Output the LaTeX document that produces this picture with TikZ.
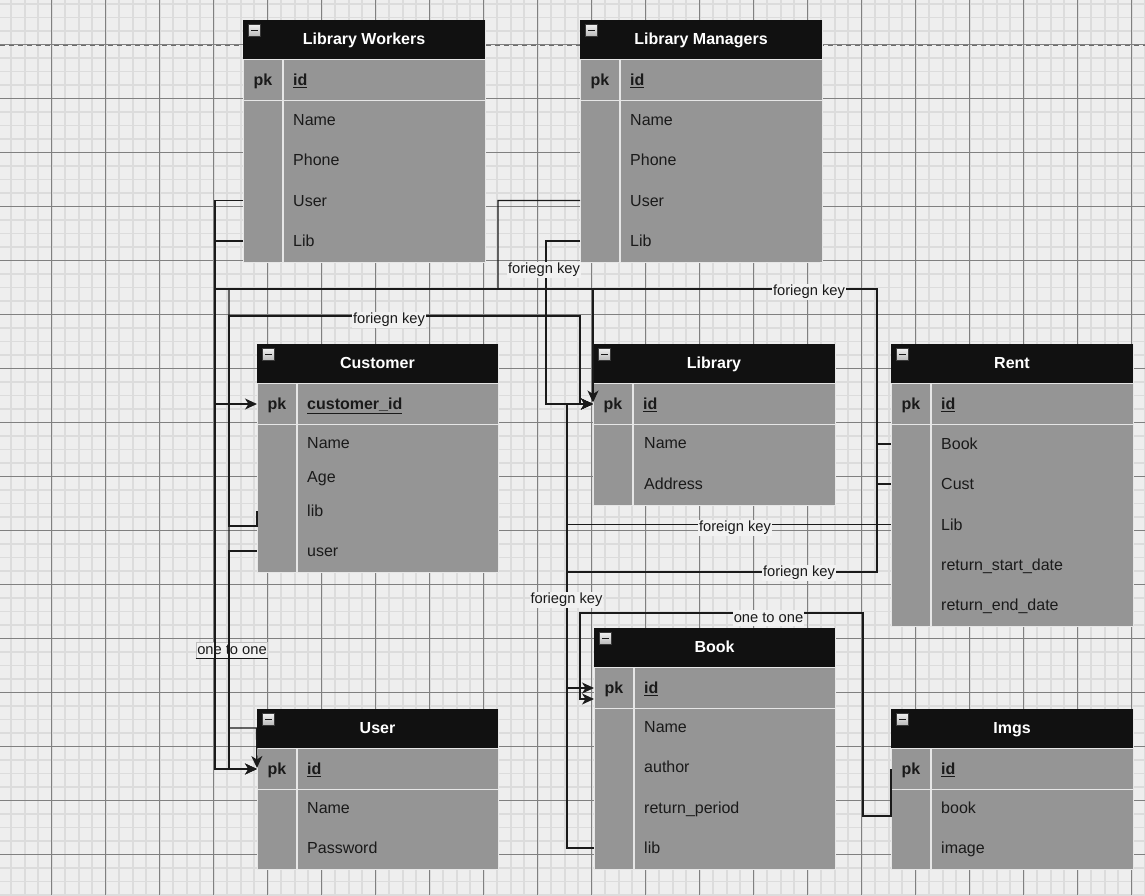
\documentclass[tikz,border=0pt]{standalone}
\usepackage{fontspec}
\setmainfont{Liberation Sans}
\usetikzlibrary{arrows.meta,calc}
\definecolor{bgc}{HTML}{EEEEEE}
\definecolor{gminor}{HTML}{DCDCDC}
\definecolor{gmajor}{HTML}{808080}
\definecolor{hdrc}{HTML}{111111}
\definecolor{bodyc}{HTML}{959595}
\definecolor{sepc}{HTML}{E6E6E6}
\definecolor{linec}{HTML}{1A1A1A}
\definecolor{lblbg}{HTML}{F1F1F1}
\newcommand\ffld{\fontsize{16}{19}\selectfont}
\newcommand\flbl{\fontsize{14.7}{17}\selectfont}
\newcommand\keyul[1]{\underline{#1}}
\tikzset{
  tbl/.style={draw=sepc, line width=1pt, fill=bodyc, anchor=north west, inner sep=0pt},
  hdr/.style={fill=hdrc, anchor=north west, inner sep=0pt, minimum height=39.5pt},
  htext/.style={text=white, font=\ffld\bfseries, text height=11.5pt, text depth=0pt, inner sep=0pt},
  fld/.style={anchor=west, font=\ffld, text=linec, text height=11.5pt, text depth=0pt, inner sep=0pt},
  pkt/.style={fld, font=\ffld\bfseries, anchor=center},
  sep/.style={draw=sepc, line width=1.5pt},
  icon/.style={draw=gray!45!black, top color=gray!12, bottom color=gray!55, minimum size=12pt, inner sep=0pt, anchor=north west, line width=0.8pt},
  edge/.style={draw=linec, line width=1.3pt},
  arr/.style={edge, -{Stealth[length=12pt,width=11pt,inset=3.5pt]}},
  lbl/.style={fill=lblbg, font=\flbl, text=linec, inner sep=1pt, text height=10.8pt, text depth=3.2pt, anchor=base},
  gridminor/.style={draw=gminor, line width=1.6pt},
  gridmajor/.style={draw=gmajor, line width=1pt},
  pagebreak/.style={draw=gray!85!black, line width=1.8pt, dash pattern=on 4.5pt off 4.5pt}
}
\newcommand\ertable[7]{%
  \node[tbl, minimum width=#4pt, minimum height=#5pt] (#1) at (#2,#3) {};
  \node[hdr, minimum width=#4pt] (#1H) at (#2,#3) {};
  \node[htext] (#1T) at (#2+#4/2,#3+18.5) {#6};
  \node[icon] (#1I) at (#2+5,#3+4) {};
  \draw[line width=1.6pt, linec] ($(#1I.center)+(-3.5,0)$) -- ++(7,0);
  \draw[sep] (#2,#3+39.5) -- ++(#4,0);
  \draw[sep] (#2,#3+80.5) -- ++(#4,0);
  \draw[sep] (#2+40,#3+40) -- (#2+40,#3+#5);
  \node[pkt] (#1P) at (#2+20,#3+60) {pk};
  \node[fld, font=\ffld\bfseries] (#1K) at (#2+50,#3+60) {\keyul{#7}};
}
\begin{document}
\begin{tikzpicture}[x=1pt,y=-1pt]
\useasboundingbox (0,0) rectangle (1145,895);
\fill[bgc] (0,0) rectangle (1145,895);
% grid
\foreach \i in {0,...,84} \draw[gridminor] (11.2+13.5*\i,0) -- (11.2+13.5*\i,895);
\foreach \j in {0,...,66} \draw[gridminor] (0,3.8+13.5*\j) -- (1145,3.8+13.5*\j);
\foreach \i in {1,...,21} \draw[gridmajor] (-2.3+54*\i,0) -- (-2.3+54*\i,895);
\foreach \j in {1,...,16} \draw[gridmajor] (0,-9.7+54*\j) -- (1145,-9.7+54*\j);
\draw[pagebreak] (0,45.5) -- (1145,45.5);

% tables
\ertable{wk}{243}{20}{242}{242}{Library Workers}{id}
\node[fld] (wkName) at (293,119.5) {Name};
\node[fld] (wkPhone) at (293,160) {Phone};
\node[fld] (wkUser) at (293,200.5) {User};
\node[fld] (wkLib) at (293,241) {Lib};

\ertable{mg}{580}{20}{242}{242}{Library Managers}{id}
\node[fld] (mgName) at (630,119.5) {Name};
\node[fld] (mgPhone) at (630,160) {Phone};
\node[fld] (mgUser) at (630,200.5) {User};
\node[fld] (mgLib) at (630,241) {Lib};

\ertable{cu}{257}{344}{241}{228}{Customer}{customer\_id}
\node[fld] (cuName) at (307,443) {Name};
\node[fld] (cuAge) at (307,477) {Age};
\node[fld] (cuLib) at (307,511) {lib};
\node[fld] (cuUser) at (307,551) {user};

\ertable{lb}{593}{344}{242}{161}{Library}{id}
\node[fld] (lbName) at (644,443) {Name};
\node[fld] (lbAddr) at (644,484) {Address};

\ertable{rt}{891}{344}{242}{282}{Rent}{id}
\node[fld] (rtBook) at (941,444) {Book};
\node[fld] (rtCust) at (941,484) {Cust};
\node[fld] (rtLib) at (941,524.5) {Lib};
\node[fld] (rtStart) at (941,564.5) {return\_start\_date};
\node[fld] (rtEnd) at (941,605) {return\_end\_date};

\ertable{bk}{594}{628}{241}{241}{Book}{id}
\node[fld] (bkName) at (644,727) {Name};
\node[fld] (bkAuthor) at (644,767) {author};
\node[fld] (bkPeriod) at (644,807.5) {return\_period};
\node[fld] (bkLib) at (644,848) {lib};

\ertable{us}{257}{709}{241}{160}{User}{id}
\node[fld] (usName) at (307,807.5) {Name};
\node[fld] (usPass) at (307,848) {Password};

\ertable{im}{891}{709}{242}{160}{Imgs}{id}
\node[fld] (imBook) at (941,807.5) {book};
\node[fld] (imImage) at (941,848) {image};

% label lying under the lines
\node[lbl, draw=gray!50, line width=0.6pt] (oo1) at (232,654.2) {one to one};
\draw[linec, line width=1.2pt] (oo1.south west) -- (oo1.south east);

% connectors
\draw[arr] (wk.west |- wkUser) -- ++(-28,0) |- (us.west |- usK);
\draw[arr] (wk.west |- wkLib) -- ++(-28,0) |- (593,289) -- ($(lb.west |- lbK)+(0,-1.5)$);
\draw[arr] (mg.west |- mgUser) -- ++(-82,0) |- (229,289) |- (256.5,728) -- ($(us.west |- usK)+(0,-1)$);
\draw[arr] (mg.west |- mgLib) -- ++(-34,0) |- (lb.west |- lbK);
\draw[arr] (cu.west |- cuLib) -- ++(0,15) -- ++(-28,0) |- (580,316) |- (lb.west |- lbK);
\draw[arr] (cu.west |- cuUser) -- ++(-28,0) |- (us.west |- usK);
\draw[arr] (rt.west |- rtCust) -- ++(-14,0) |- (215,289) |- (cu.west |- cuK);
\draw[arr] (rt.west |- rtBook) -- ++(-14,0) |- (567,572) |- (bk.west |- bkK);
\draw[arr] (rt.west |- rtLib) -| (567,404) -- (lb.west |- lbK);
\draw[arr] (bk.west |- bkLib) -| (567,404) -- (lb.west |- lbK);
\draw[arr] (im.west |- imK) -- ++(0,47) -- ++(-28,0) |- (580,613) |- ($(bk.west |- bkK)+(0,11)$);

% labels
\node[lbl] (fk1) at (544,273.3) {foriegn key};
\node[lbl] (fk2) at (389,323.5) {foriegn key};
\node[lbl] (fk3) at (809,295.3) {foriegn key};
\node[lbl] (fk4) at (735,531.5) {foreign key};
\node[lbl] (fk5) at (799,576.5) {foriegn key};
\node[lbl] (fk6) at (566.5,603.3) {foriegn key};
\node[lbl] (oo2) at (768.5,622) {one to one};
\end{tikzpicture}
\end{document}
